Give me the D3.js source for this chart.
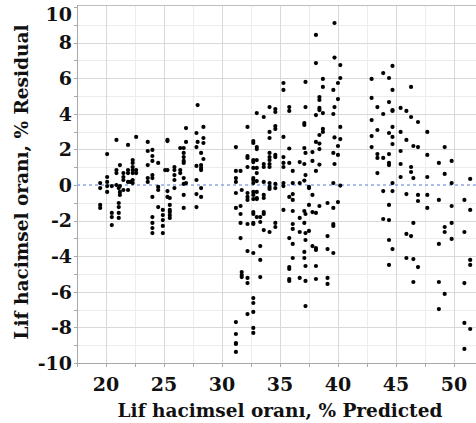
<!DOCTYPE html>
<html><head><meta charset="utf-8">
<script src="https://cdn.jsdelivr.net/npm/d3@7"></script>
<style>body{margin:0;background:#fff}</style>
</head><body>
<svg id="c" width="476" height="423"></svg>
<script>
// Predicted value levels (x) and the residuals observed at each level (y)
const predictedLevels = [
  19.5, 20.1, 20.5, 20.9, 21.1, 21.2, 21.5, 21.9, 22.1, 22.3, 22.6, 23.6, 24.0, 24.5, 24.9, 25.1, 25.3, 25.5, 25.9, 26.4, 26.7, 26.9, 27.8, 27.9, 28.2, 28.4,
  31.2, 31.6, 31.7, 32.2, 32.7, 33.0, 33.3, 33.6, 34.1, 34.6, 35.3, 35.8, 36.1, 36.7, 37.1, 37.2, 37.5, 37.8, 38.1, 38.4, 38.7, 39.1, 39.6, 39.7, 40.0, 40.2,
  42.9, 43.4, 43.9, 44.4, 44.7, 45.4, 45.9, 46.3, 46.5, 46.9, 47.7, 48.7, 49.2, 49.8, 50.9, 51.4
];
const residualsByLevel = [
  [0.11, -0.17, -1.12, -1.29],
  [1.74, 0.45, 0.17, -0.06, -0.39],
  [-0.06, -1.57, -1.80, -2.25],
  [2.53, 0.84, 0.67, 0],
  [-0.17, -1.01, -1.24, -1.57, -1.85],
  [1.12, -0.06, -0.39, -0.56],
  [0.67, 0.45, 0.28, -0.28],
  [2.25, 0.84, 0.67, 0.17, -0.28],
  [0.17],
  [1.40, 1.24, 1.01, 0.84, 0.67, 0.28, 0.11],
  [2.70, 0.84, 0.67],
  [2.42, 1.91, 1.12, 0.39, 0.17],
  [1.97, 1.63, 1.35, 0.56, 0.39, -0.67, -1.80, -2.13, -2.42, -2.70],
  [1.24, -0.11, -0.28, -1.24],
  [-1.40, -1.69, -1.97, -2.30, -2.70],
  [0.84],
  [2.53, 2.47, 0.84, -0.34, -0.67],
  [-0.73, -1.12, -1.40, -1.52, -1.69, -1.85],
  [1.01, 0.84, 0.56, 0.28, -0.17],
  [2.08, 0.84, 0.67],
  [2.08, 1.80, 1.57, 1.35, 1.24, 0.39, 0.06, -0.56, -1.29],
  [3.20, 2.42, 0.11],
  [2.92, 2.13, 1.07, 0.28, -0.51, -1.24],
  [4.49, 2.42],
  [1.80, 1.12, 0.96, 0.84, -0.17, -0.67],
  [3.26, 2.64, 2.36, 1.46],
  [2.13, 0.79, 0.39, 0.17, -0.45, -1.29, -7.70, -8.37, -8.88, -8.93, -9.38],
  [0.79, -1.18, -1.63, -2.13, -2.98],
  [-0.28, -4.89, -5.06, -5.17],
  [3.26, 1.63, 1.52, 1.01, -0.45, -0.67, -0.84, -2.19, -3.71, -5.22, -5.51, -7.25],
  [2.47, 2.36, 1.40, 1.29, 0.96, 0.39, 0.28, 0.11, -0.39, -0.56, -0.79, -1.52, -1.63, -2.13, -2.19, -3.82, -6.35, -6.63, -7.13, -8.03, -8.31],
  [4.04, 2.13, 2.02, 1.40, 0.96, 0.67, 0.22, -0.39, -0.73, -0.79, -1.80],
  [-1.80, -2.08, -3.43, -4.21, -5.17],
  [3.82, 1.18, 1.01, 0.17, -0.56, -0.73, -1.52, -1.63, -2.53],
  [4.38, 2.98, 2.64, 1.80, 1.57, 1.40, 1.18, 1.01, 0.11, -0.11, -0.22, -2.64],
  [4.27, 4.10, 3.31, 3.15, 1.69, 1.57, 0.06, -0.17, -2.13, -2.36],
  [5.73, 5.34, 2.70, 1.57, 1.24, 1.01, 0.11, -0.06, -1.40],
  [4.38, 4.16, 2.05, 1.24, -0.67, -2.98, -4.61, -4.72, -5.28, -5.39],
  [0.79, 0.11, -0.51, -0.84, -1.46, -2.19, -2.47, -3.31, -4.10],
  [1.29, 0.11, -1.85, -2.64, -5.22],
  [3.48, 3.37, 2.08, 1.18, 0.25, -1.46, -2.13, -3.76, -4.10],
  [5.79, 4.38, 1.80, 0.56, -1.63, -2.70, -3.09, -4.55, -5.39, -6.80],
  [-0.11, -0.17, -1.12, -2.58],
  [1.85, 1.35, -0.56, -1.52, -3.43],
  [8.43, 6.85, 3.93, 2.42, 0.79, -1.57, -3.54, -3.65, -4.55, -5.28],
  [4.94, 4.78, 4.33, 4.21, 2.81, 2.33, 2.02, 1.15, -1.18],
  [5.96, 5.51, 4.04, 3.15, 2.98],
  [-1.01, -2.87, -3.60, -5.22, -5.56],
  [5.34, 3.99, 1.80, 0.11, -1.29, -2.19, -2.30, -3.82],
  [9.10, 7.16, 4.38, 2.67, 1.18],
  [5.73, 4.83, 2.19, 1.69, -0.96],
  [6.74, 6.01, 3.26, 2.58, -0.03],
  [5.96, 4.89, 3.65, 2.75, 2.13],
  [4.38, 3.09, 1.74, 1.52, 0.67],
  [6.29, 3.99, 1.52, -0.34, -1.91],
  [6.01, 4.66, 2.92, 1.74, 1.24, 1.12, -1.12, -1.97, -3.09, -4.49],
  [6.69, 5.34, 4.21, 4.16, 3.26, 2.70, 2.30, 0.11, -0.34, -3.60],
  [4.33, 2.98, 1.91, 1.18, 0.45],
  [4.16, 2.53, -0.51, -2.75, -4.10],
  [5.51, 3.82, 1.01, 0.73, -2.87],
  [2.19, 0.39, -2.13, -4.16, -5.45],
  [3.54, 2.13, -0.56, -0.90, -4.61],
  [2.98, 1.69, 0.45, -0.56, -1.29],
  [1.24, -0.84, -3.31, -5.45, -6.97],
  [2.13, 0.62, -2.36, -2.64, -6.12],
  [1.35, 0.11, -1.18, -2.13, -3.03],
  [-0.84, -2.64, -5.51, -7.75, -9.21],
  [0.34, -1.40, -4.21, -4.49, -8.09]
];
const xTickValues = [20, 25, 30, 35, 40, 45, 50];
const yTickValues = [-10, -8, -6, -4, -2, 0, 2, 4, 6, 8, 10];
const xTitle = "Lif hacimsel oranı, % Predicted";
const yTitle = "Lif hacimsel oranı, % Residual";

(function () {
const points = [];
predictedLevels.forEach((p, i) => residualsByLevel[i].forEach(r => points.push({p, r})));

const mL = 77, mR = 476, mT = 7, mB = 363;
const x = d3.scaleLinear().domain([17.5, 51.9]).range([mL, mR]);
const y = d3.scaleLinear().domain([-10, 10]).range([mB, mT]);
const svg = d3.select("#c");
const font = "'DejaVu Serif', serif";

const g = svg.append("g");
const xMinor = d3.range(22.5, 52, 5);
const yMinor = d3.range(-9, 10, 2);
g.selectAll(".vm").data(xMinor).join("line")
  .attr("x1", d => Math.round(x(d)) + 0.5).attr("x2", d => Math.round(x(d)) + 0.5).attr("y1", 5).attr("y2", mB)
  .attr("stroke", "#ececec").attr("stroke-width", 1);
g.selectAll(".hm").data(yMinor).join("line")
  .attr("y1", d => Math.round(y(d)) + 0.5).attr("y2", d => Math.round(y(d)) + 0.5).attr("x1", mL).attr("x2", mR)
  .attr("stroke", "#ececec").attr("stroke-width", 1);
g.selectAll(".vM").data(xTickValues).join("line")
  .attr("x1", d => Math.round(x(d)) + 0.5).attr("x2", d => Math.round(x(d)) + 0.5).attr("y1", 5).attr("y2", mB)
  .attr("stroke", "#d9d9d9").attr("stroke-width", 1);
g.selectAll(".hM").data(yTickValues.filter(v => v !== 0 && v > -10 && v < 10)).join("line")
  .attr("y1", d => Math.round(y(d)) + 0.5).attr("y2", d => Math.round(y(d)) + 0.5).attr("x1", mL).attr("x2", mR)
  .attr("stroke", "#d9d9d9").attr("stroke-width", 1);

svg.append("line").attr("x1", mL).attr("x2", mR).attr("y1", 5.5).attr("y2", 5.5).attr("stroke", "#bdbdbd");
svg.append("line").attr("x1", mL + 0.5).attr("x2", mL + 0.5).attr("y1", 5).attr("y2", mB + 1).attr("stroke", "#a8a8a8");
svg.append("line").attr("x1", mL).attr("x2", mR).attr("y1", mB + 0.5).attr("y2", mB + 0.5).attr("stroke", "#a8a8a8");

svg.append("line").attr("x1", mL).attr("x2", mR).attr("y1", y(0)).attr("y2", y(0))
  .attr("stroke", "#8fa8e6").attr("stroke-width", 1.3).attr("stroke-dasharray", "3,3");

const yAllTicks = d3.range(-10, 11, 1);
svg.selectAll(".yt").data(yAllTicks).join("line")
  .attr("x1", mL - 3).attr("x2", mL).attr("y1", d => Math.round(y(d)) + 0.5).attr("y2", d => Math.round(y(d)) + 0.5)
  .attr("stroke", "#a8a8a8");
const xAllTicks = d3.range(17.5, 52, 2.5);
svg.selectAll(".xt").data(xAllTicks).join("line")
  .attr("x1", d => Math.round(x(d)) + 0.5).attr("x2", d => Math.round(x(d)) + 0.5).attr("y1", mB).attr("y2", mB + 4)
  .attr("stroke", "#a8a8a8");

svg.selectAll(".yl").data(yTickValues).join("text")
  .attr("x", mL - 5).attr("y", d => Math.max(y(d), 14)).attr("dy", "0.36em")
  .attr("text-anchor", "end").attr("font-family", font).attr("font-weight", "bold").attr("font-size", 19)
  .attr("fill", "#111").text(d => d);
svg.selectAll(".xl").data(xTickValues).join("text")
  .attr("x", d => x(d)).attr("y", 391)
  .attr("text-anchor", "middle").attr("font-family", font).attr("font-weight", "bold").attr("font-size", 19)
  .attr("fill", "#111").text(d => d);

svg.append("text").attr("x", 280).attr("y", 417).attr("text-anchor", "middle")
  .attr("font-family", font).attr("font-weight", "bold").attr("font-size", 18.5).attr("fill", "#111").text(xTitle);
svg.append("text").attr("transform", "translate(28,182) rotate(-90)").attr("text-anchor", "middle")
  .attr("font-family", font).attr("font-weight", "bold").attr("font-size", 18.5).attr("fill", "#111").text(yTitle);

svg.append("g").selectAll("circle").data(points).join("circle")
  .attr("cx", d => x(d.p)).attr("cy", d => y(d.r)).attr("r", 2.1).attr("fill", "#000");
})();
</script>
</body></html>
